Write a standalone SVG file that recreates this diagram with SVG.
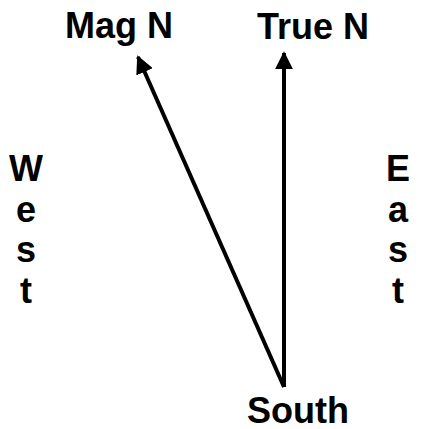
<svg xmlns="http://www.w3.org/2000/svg" width="422" height="429" viewBox="0 0 422 429">
<defs>
<style>
text{font-family:"Liberation Sans",Arial,sans-serif;font-weight:bold;font-size:36px;fill:#000}
.c{stroke:#000;stroke-width:4;fill:none}
</style>
<marker id="ah" viewBox="0 0 10 10" refX="9" refY="5" markerWidth="4.5" markerHeight="4.5" markerUnits="strokeWidth" orient="auto">
<path d="M0,0 L10,5 L0,10 z" fill="#000"/>
</marker>
</defs>
<rect width="422" height="429" fill="#fff"/>
<g id="connectors">
<line class="c" x1="284" y1="387" x2="138" y2="57" marker-end="url(#ah)"/>
<line class="c" x1="284" y1="387" x2="284" y2="53" marker-end="url(#ah)"/>
</g>
<g id="magN"><text x="65" y="38">Mag N</text></g>
<g id="trueN"><text x="257" y="39">True N</text></g>
<g id="south"><text x="247" y="423">South</text></g>
<g id="west" text-anchor="middle">
<text x="26" y="181">W</text>
<text x="26" y="222">e</text>
<text x="26" y="262">s</text>
<text x="26" y="303">t</text>
</g>
<g id="east" text-anchor="middle">
<text x="398" y="181">E</text>
<text x="398" y="222">a</text>
<text x="398" y="262">s</text>
<text x="398" y="303">t</text>
</g>
</svg>
